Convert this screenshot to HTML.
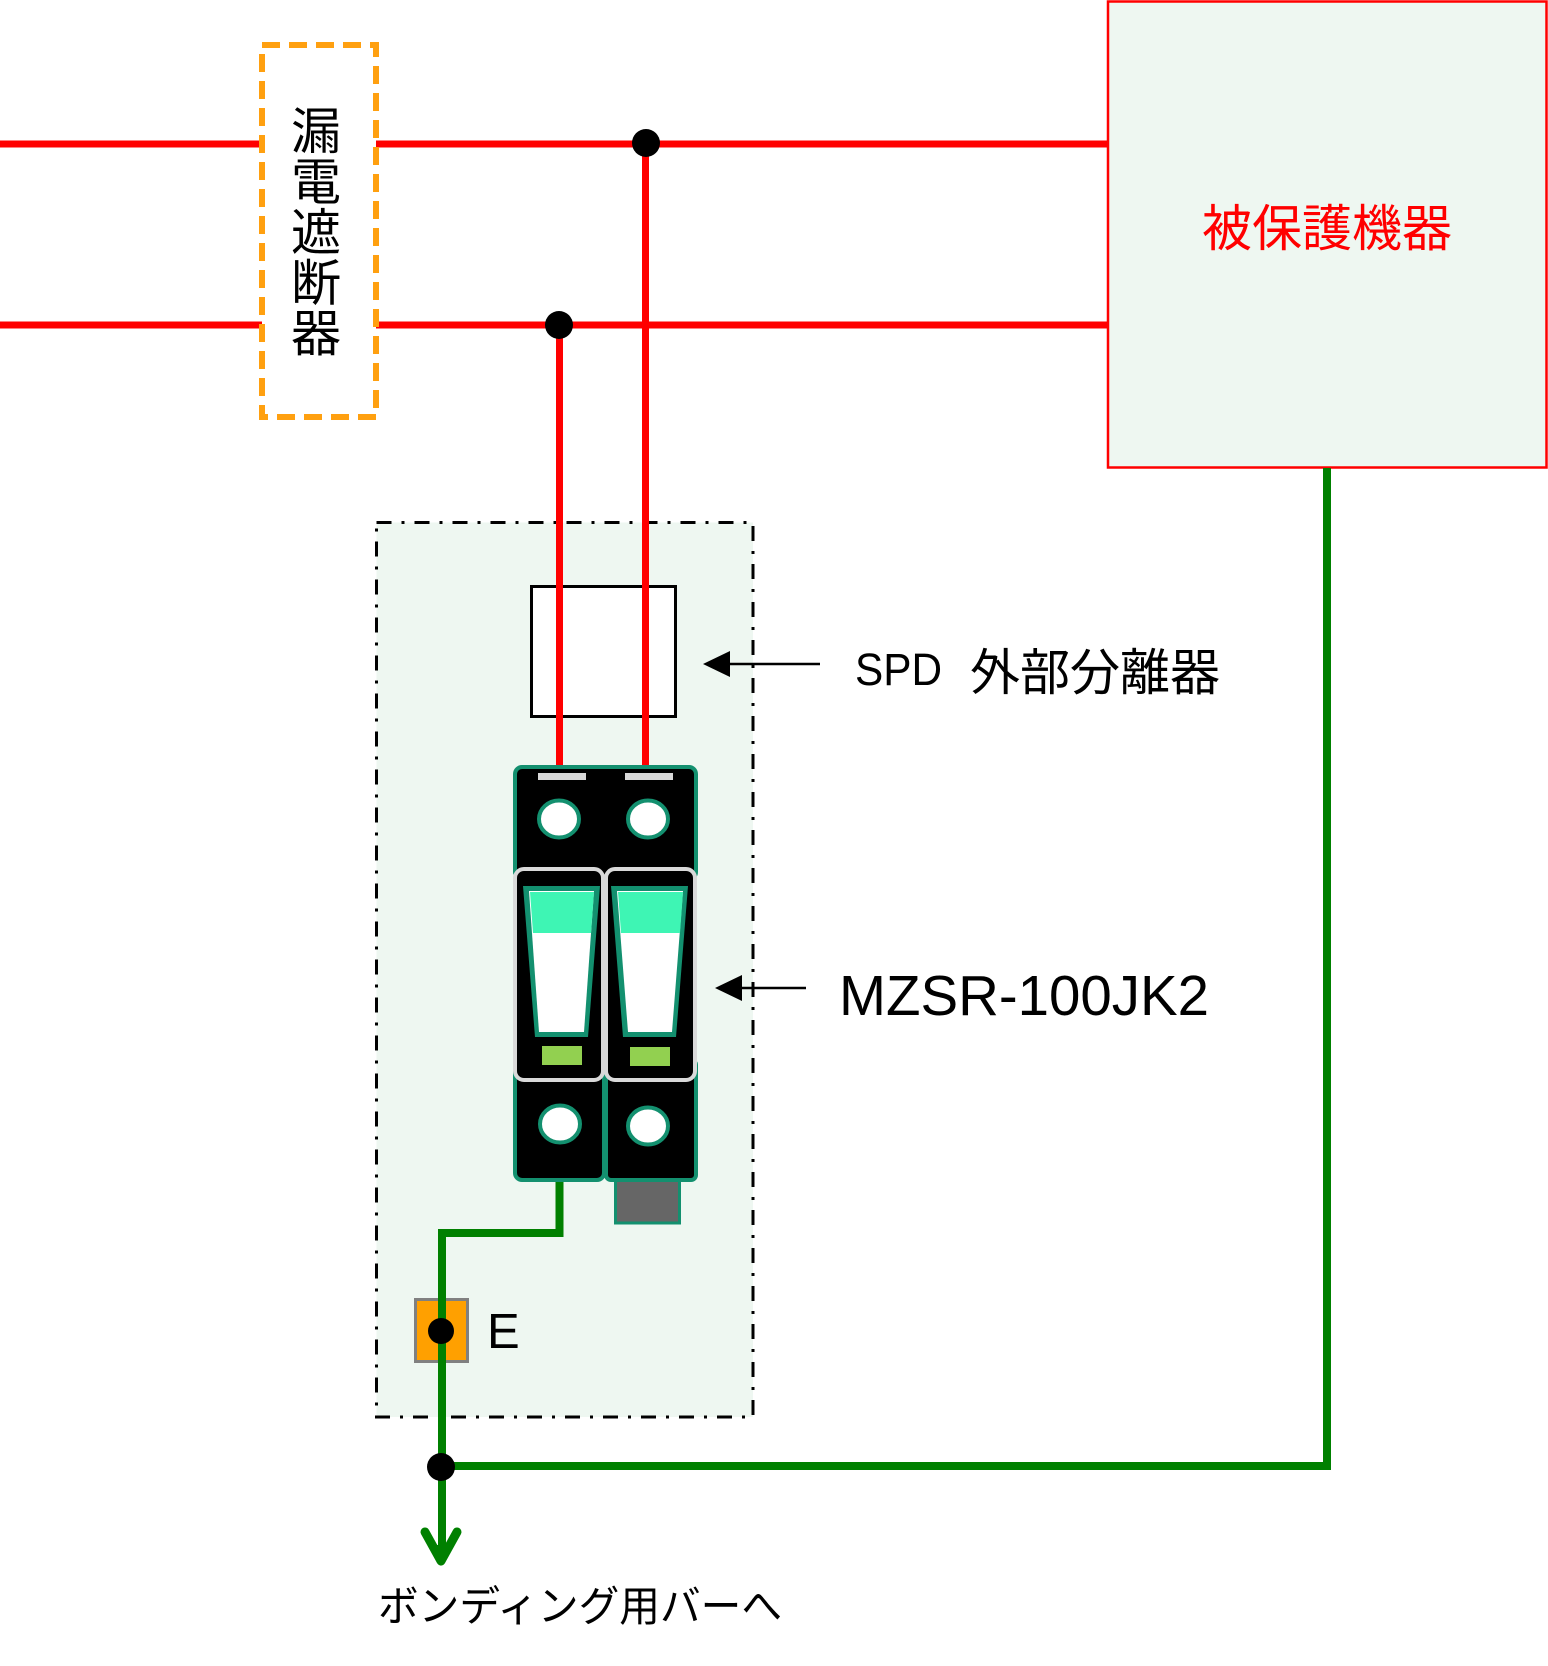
<!DOCTYPE html>
<html>
<head>
<meta charset="utf-8">
<style>
html,body{margin:0;padding:0;background:#fff;}
svg{display:block;}
text{font-family:"Liberation Sans","Noto Sans CJK JP",sans-serif;}
.cjk{font-family:"Noto Sans CJK JP","Liberation Sans",sans-serif;}
</style>
</head>
<body>
<svg width="1548" height="1666" viewBox="0 0 1548 1666" xmlns="http://www.w3.org/2000/svg">
  <rect x="0" y="0" width="1548" height="1666" fill="#fff"/>

  <!-- protected equipment box -->
  <rect x="1108" y="1.5" width="438.5" height="466" fill="#eef7f1" stroke="#ff0000" stroke-width="2.5"/>
  <text class="cjk" x="1327" y="246" font-size="50" fill="#ff0000" text-anchor="middle">被保護機器</text>

  <!-- dash-dot SPD enclosure -->
  <rect x="376.5" y="522.5" width="376.5" height="894.5" fill="#eef7f1" stroke="#000" stroke-width="3" stroke-dasharray="15 10 3 10"/>

  <!-- SPD external disconnector -->
  <rect x="531.5" y="586.5" width="144" height="130" fill="#fff" stroke="#000" stroke-width="3"/>

  <!-- red power lines -->
  <line x1="0" y1="144" x2="1107" y2="144" stroke="#ff0000" stroke-width="7"/>
  <line x1="0" y1="325" x2="1107" y2="325" stroke="#ff0000" stroke-width="7"/>
  <line x1="645.5" y1="144" x2="645.5" y2="768" stroke="#ff0000" stroke-width="7"/>
  <line x1="559.5" y1="325" x2="559.5" y2="768" stroke="#ff0000" stroke-width="7"/>
  <circle cx="646" cy="143" r="14" fill="#000"/>
  <circle cx="559" cy="325" r="14" fill="#000"/>

  <!-- earth leakage breaker (dashed orange) -->
  <rect x="262" y="45" width="114" height="372" fill="#fff" stroke="#ffa010" stroke-width="6" stroke-dasharray="18 9"/>
  <g class="cjk" font-size="50" fill="#000" text-anchor="middle">
    <text x="316" y="149">漏</text>
    <text x="316" y="199.5">電</text>
    <text x="316" y="250">遮</text>
    <text x="316" y="300.5">断</text>
    <text x="316" y="351">器</text>
  </g>

  <!-- grey block under right module -->
  <rect x="615.5" y="1170" width="64" height="53" fill="#666" stroke="#13906f" stroke-width="3"/>

  <!-- green ground wire from left module -->
  <polyline points="559.5,1178 559.5,1233 442,1233 442,1466" fill="none" stroke="#008000" stroke-width="8"/>

  <!-- SPD body -->
  <rect x="515" y="767" width="181" height="112" rx="7" fill="#000" stroke="#13906f" stroke-width="4"/>
  <rect x="515" y="1060" width="89" height="120" rx="7" fill="#000" stroke="#13906f" stroke-width="4"/>
  <rect x="606" y="1060" width="90" height="120" rx="5" fill="#000" stroke="#13906f" stroke-width="4"/>
  <rect x="538" y="773" width="48" height="7" fill="#d9d9d9"/>
  <rect x="625" y="773" width="48" height="7" fill="#d9d9d9"/>
  <ellipse cx="559" cy="819" rx="20" ry="18.5" fill="#fff" stroke="#13906f" stroke-width="4"/>
  <ellipse cx="648" cy="819" rx="20" ry="18.5" fill="#fff" stroke="#13906f" stroke-width="4"/>
  <ellipse cx="560" cy="1124" rx="20" ry="18.5" fill="#fff" stroke="#13906f" stroke-width="4"/>
  <ellipse cx="648" cy="1126" rx="20" ry="18.5" fill="#fff" stroke="#13906f" stroke-width="4"/>

  <!-- switch panels -->
  <rect x="515" y="869" width="88" height="211" rx="9" fill="#000" stroke="#d9d9d9" stroke-width="4"/>
  <rect x="606" y="869" width="89" height="211" rx="9" fill="#000" stroke="#d9d9d9" stroke-width="4"/>
  <polygon points="523,886 600,886 588,1037 535,1037" fill="#13906f"/>
  <polygon points="529,891 594,891 584,1032 539,1032" fill="#fff"/>
  <polygon points="530,892 594,892 591,933 533,933" fill="#3ef5b4"/>
  <polygon points="611,886 688,886 676,1037 623,1037" fill="#13906f"/>
  <polygon points="617,891 683,891 672,1032 628,1032" fill="#fff"/>
  <polygon points="618,892 683,892 680,933 621,933" fill="#3ef5b4"/>
  <rect x="542" y="1046" width="40" height="19" fill="#92d050"/>
  <rect x="630" y="1047" width="40" height="19" fill="#92d050"/>

  <!-- label arrows -->
  <line x1="820" y1="664" x2="726" y2="664" stroke="#000" stroke-width="2.5"/>
  <polygon points="703,664 730,651 730,677" fill="#000"/>
  <line x1="806" y1="988" x2="738" y2="988" stroke="#000" stroke-width="2.5"/>
  <polygon points="715,988 742,975 742,1001" fill="#000"/>

  <text x="855" y="685" font-size="45" fill="#000" textLength="87" lengthAdjust="spacingAndGlyphs">SPD</text>
  <text class="cjk" x="970" y="690" font-size="50" fill="#000">外部分離器</text>
  <text x="839" y="1015" font-size="57" fill="#000" textLength="370" lengthAdjust="spacingAndGlyphs">MZSR-100JK2</text>

  <!-- E terminal -->
  <rect x="415.5" y="1299.5" width="52" height="62" fill="#ffa000" stroke="#808080" stroke-width="3"/>
  <line x1="442" y1="1290" x2="442" y2="1370" stroke="#008000" stroke-width="8"/>
  <circle cx="441" cy="1331" r="13" fill="#000"/>
  <text x="487" y="1348" font-size="49" fill="#000">E</text>

  <!-- ground bus -->
  <polyline points="1327,468 1327,1466 441,1466" fill="none" stroke="#008000" stroke-width="8"/>
  <line x1="442" y1="1466" x2="442" y2="1558" stroke="#008000" stroke-width="8"/>
  <polyline points="425,1532 441,1561 457,1532" fill="none" stroke="#008000" stroke-width="9" stroke-linecap="round" stroke-linejoin="round"/>
  <polygon points="433,1545 449,1545 441,1566" fill="#008000"/>
  <circle cx="441" cy="1467" r="14" fill="#000"/>

  <text class="cjk" x="378" y="1621" font-size="42" fill="#000" textLength="404" lengthAdjust="spacingAndGlyphs">ボンディング用バーへ</text>
</svg>
</body>
</html>
